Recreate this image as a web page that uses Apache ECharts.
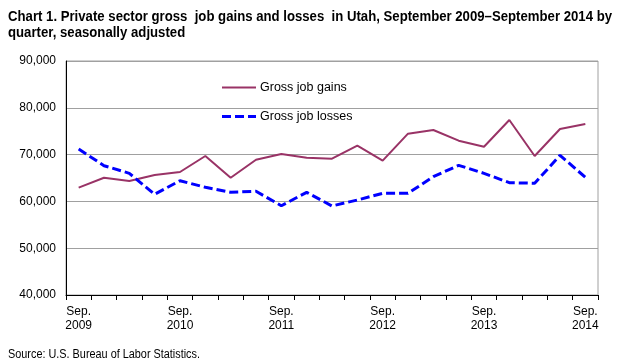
<!DOCTYPE html>
<html><head><meta charset="utf-8">
<script src="https://cdn.jsdelivr.net/npm/echarts@6/dist/echarts.min.js"></script>
<style>html,body{margin:0;padding:0;background:#fff}#c{width:640px;height:364px}</style>
</head><body><div id="c"></div>
<script>
const categories = ["Sep. 2009","Dec. 2009","Mar. 2010","Jun. 2010","Sep. 2010","Dec. 2010","Mar. 2011","Jun. 2011","Sep. 2011","Dec. 2011","Mar. 2012","Jun. 2012","Sep. 2012","Dec. 2012","Mar. 2013","Jun. 2013","Sep. 2013","Dec. 2013","Mar. 2014","Jun. 2014","Sep. 2014"];
const gains = [62930,65060,64360,65640,66280,69700,65060,68910,70130,69340,69120,71900,68700,74470,75260,72970,71690,77390,69700,75470,76540];
const losses = [71200,67630,66000,61520,64420,63010,61940,62160,59080,61940,59020,60300,61730,61730,65280,67710,66000,64000,63870,69850,65150];
const yTicks = [40000,50000,60000,70000,80000,90000];
const seriesNames = ['Gross job gains','Gross job losses'];
const titleLines = ['Chart 1. Private sector gross  job gains and losses  in Utah, September 2009\u2013September 2014 by','quarter, seasonally adjusted'];
const sourceText = 'Source: U.S. Bureau of Labor Statistics.';

const GAIN_COLOR = '#993366', LOSS_COLOR = '#0000ff';
const titleFont = 'bold 15px "Liberation Sans", Arial, sans-serif';
const cv = document.createElement('canvas').getContext('2d');
cv.font = titleFont;
const w1 = cv.measureText(titleLines[0]).width;
const sx = 604 / w1;
const srcFont = '12px "Liberation Sans", Arial, sans-serif';
cv.font = srcFont;
const ssx = 192 / cv.measureText(sourceText).width;

const chart = echarts.init(document.getElementById('c'), null, {renderer:'canvas'});
chart.setOption({
  animation:false,
  graphic:[
    {type:'text', x:8, y:9, scaleX:sx, style:{text:titleLines[0], font:titleFont, fill:'#000', textVerticalAlign:'top'}},
    {type:'text', x:8, y:25.5, scaleX:sx, style:{text:titleLines[1], font:titleFont, fill:'#000', textVerticalAlign:'top'}},
    {type:'text', x:8, y:349, scaleX:ssx, style:{text:sourceText, font:srcFont, fill:'#000', textVerticalAlign:'top'}},
    {type:'line', shape:{x1:222,y1:87.5,x2:256,y2:87.5}, style:{stroke:GAIN_COLOR, lineWidth:2}},
    {type:'text', x:260, y:87.5, style:{text:seriesNames[0], font:'12.5px "Liberation Sans", Arial, sans-serif', fill:'#000', textVerticalAlign:'middle'}},
    {type:'line', shape:{x1:222,y1:116.5,x2:256,y2:116.5}, style:{stroke:LOSS_COLOR, lineWidth:3, lineDash:[9,4]}},
    {type:'text', x:260, y:116.5, style:{text:seriesNames[1], font:'12.5px "Liberation Sans", Arial, sans-serif', fill:'#000', textVerticalAlign:'middle'}}
  ],
  grid:{left:66,right:42,top:61,bottom:69,show:true,borderColor:'#a0a0a0',borderWidth:1},
  xAxis:{
    type:'category', data:categories, boundaryGap:true,
    axisLine:{lineStyle:{color:'#000',width:1}},
    axisTick:{show:true,interval:0,length:5,lineStyle:{color:'#000'}},
    axisLabel:{
      interval:function(i){return i%4===0;},
      formatter:function(v){return v.replace(' ','\n');},
      fontFamily:'Liberation Sans, Arial, sans-serif',fontSize:12,color:'#000',lineHeight:14,margin:10
    }
  },
  yAxis:{
    type:'value', min:yTicks[0], max:yTicks[yTicks.length-1], interval:10000,
    axisLine:{show:true,lineStyle:{color:'#000'}},
    axisTick:{show:false},
    splitLine:{lineStyle:{color:'#a0a0a0',width:1}},
    axisLabel:{
      formatter:function(v){return v.toLocaleString('en-US');},
      fontFamily:'Liberation Sans, Arial, sans-serif',fontSize:12,color:'#000',margin:10
    }
  },
  series:[{
    name:seriesNames[0], type:'line', data:gains, symbol:'none',
    lineStyle:{color:GAIN_COLOR,width:2}, itemStyle:{color:GAIN_COLOR}
  },{
    name:seriesNames[1], type:'line', data:losses, symbol:'none',
    lineStyle:{color:LOSS_COLOR,width:3,type:[9,4]}, itemStyle:{color:LOSS_COLOR}
  }]
});
</script></body></html>
